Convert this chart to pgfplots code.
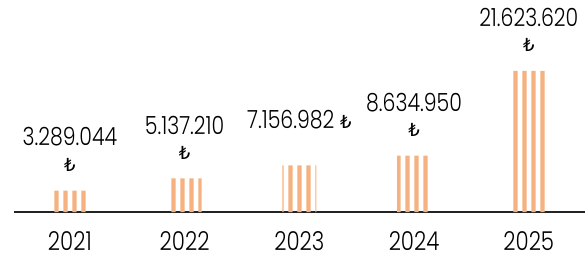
\documentclass[border=0pt]{standalone}
\usepackage{fontspec}
\setmainfont{Poppins}[UprightFont=* Light, FakeStretch=0.82]
\newfontfamily\lirafont{DejaVu Sans}
\usepackage{pgfplots}
\pgfplotsset{compat=1.18}
\usetikzlibrary{patterns}
\definecolor{barorange}{RGB}{245,178,128}
\definecolor{axisdark}{RGB}{35,35,35}
\pgfdeclarepatternformonly{mystripes}{\pgfpoint{0bp}{0bp}}{\pgfpoint{8.6bp}{2bp}}{\pgfpoint{8.6bp}{2bp}}{%
  \pgfpathrectangle{\pgfpoint{3.4bp}{-1bp}}{\pgfpoint{4.6bp}{4bp}}\pgfusepath{fill}}
\newcommand\lira{{\lirafont\fontsize{18bp}{18bp}\selectfont ₺}}
\newcommand\labA{3.289.044\\[1bp]\lira}
\newcommand\labB{5.137.210\\\lira}
\newcommand\labC{7.156.982 \lira\\[-7bp]\phantom{\lira}}
\newcommand\labD{8.634.950\\\lira}
\newcommand\labE{21.623.620\\\lira}
\begin{document}
\begin{tikzpicture}
\useasboundingbox (0,0) rectangle (588bp,259bp);
\begin{axis}[
  at={(14bp,47bp)}, anchor=south west,
  scale only axis, width=571bp, height=212bp,
  xmin=-0.487, xmax=4.49, ymin=0, ymax=32.51e6,
  axis y line=none, axis x line=bottom,
  x axis line style={line width=2bp, color=axisdark, -},
  xtick=data, xticklabels={2021,2022,2023,2024,2025},
  major tick length=0pt,
  xticklabel style={inner sep=0pt, anchor=north, yshift=-19bp, text depth=0pt, font=\fontsize{26bp}{26bp}\selectfont},
  clip=false,
  ybar, bar width=34bp,
  point meta=explicit symbolic,
  nodes near coords={\csname lab\pgfplotspointmeta\endcsname},
  every node near coord/.style={anchor=south, inner sep=0pt, yshift=19bp, align=center,
    font=\fontsize{25bp}{25bp}\selectfont, text=black},
]
\addplot[draw=none, pattern=mystripes, pattern color=barorange] coordinates {
  (0,3289044) [A]
  (1,5137210) [B]
  (2,7156982) [C]
  (3,8634950) [D]
  (4,21623620) [E]
};
\end{axis}
\end{tikzpicture}
\end{document}
